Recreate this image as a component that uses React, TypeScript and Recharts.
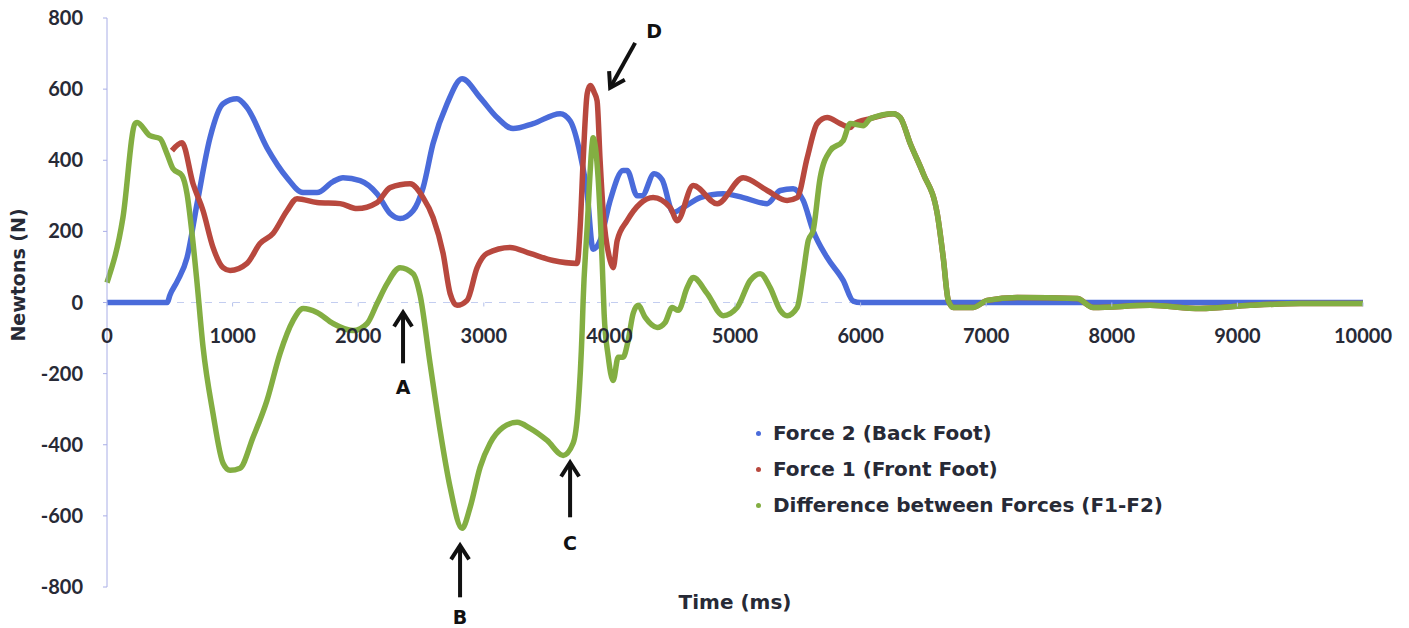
import { LineChart, Line, XAxis, YAxis, ReferenceLine } from "recharts";

// [time ms, force N]
const force2Back: [number, number][] = [
  [0, 0], [480, 0], [500, 20], [560, 60], [637, 126], [717, 278], [820, 463], [924, 559], [1035, 573],
  [1115, 548], [1274, 435], [1433, 351], [1561, 309], [1672, 309], [1800, 340], [1879, 351], [2015, 343],
  [2150, 306], [2254, 250], [2333, 236], [2437, 258], [2517, 323], [2596, 447], [2708, 559], [2827, 629],
  [2971, 576], [3106, 520], [3233, 489], [3393, 503], [3608, 531], [3687, 511], [3767, 418], [3823, 306],
  [3870, 150], [3926, 174], [4006, 287], [4109, 371], [4141, 371], [4221, 300], [4260, 300], [4356, 362],
  [4420, 345], [4508, 253], [4600, 270], [4723, 295], [4906, 306], [5065, 295], [5256, 278], [5360, 315],
  [5463, 320], [5543, 287], [5622, 202], [5734, 126], [5861, 62], [5941, 4], [6000, 0], [10000, 0],
];

const force1Front: [number, number][] = [
  [517, 427], [597, 449], [685, 334], [765, 258], [844, 155], [924, 98], [980, 90], [1115, 110], [1218, 166],
  [1322, 194], [1433, 258], [1513, 292], [1672, 281], [1856, 278], [1991, 264], [2150, 281], [2254, 323],
  [2413, 334], [2517, 295], [2596, 239], [2676, 138], [2732, 25], [2787, -8], [2867, 6], [2947, 98],
  [3026, 138], [3209, 155], [3369, 138], [3552, 118], [3743, 110], [3767, 211], [3791, 399], [3823, 587],
  [3847, 610], [3880, 590], [3902, 567], [3926, 399], [3950, 258], [4006, 118], [4030, 98], [4062, 174],
  [4141, 230], [4245, 278], [4348, 295], [4484, 267], [4540, 230], [4667, 329], [4858, 278], [5065, 351],
  [5256, 315], [5415, 287], [5495, 295], [5575, 407], [5654, 503], [5734, 520], [5838, 503], [5917, 492],
  [5941, 500], [6077, 517], [6260, 531], [6316, 520], [6395, 447], [6499, 362], [6610, 250], [6658, 126],
  [6698, 6], [6738, -14], [6897, -14], [7008, 6], [7247, 14], [7725, 11], [7852, -14], [8306, -8],
  [8705, -17], [9103, -8], [9501, -3], [10000, -3],
];

const forceDiff: [number, number][] = [
  [0, 56], [127, 239], [223, 503], [239, 506], [342, 469], [422, 461], [478, 418], [526, 376], [597, 357],
  [637, 306], [677, 194], [717, 55], [765, -126], [844, -312], [924, -452], [980, -472], [1059, -466],
  [1163, -379], [1274, -275], [1378, -143], [1481, -51], [1561, -17], [1672, -28], [1800, -59], [1959, -79],
  [2071, -59], [2150, -3], [2230, 53], [2333, 98], [2437, 81], [2493, 20], [2572, -171], [2652, -360],
  [2732, -520], [2827, -635], [2891, -576], [2971, -463], [3050, -396], [3154, -351], [3265, -337],
  [3369, -354], [3504, -388], [3632, -430], [3711, -396], [3751, -295], [3783, -79], [3791, 6], [3823, 211],
  [3863, 447], [3870, 463], [3910, 351], [3942, 118], [3958, -31], [3990, -150], [4030, -219], [4070, -154],
  [4109, -154], [4149, -107], [4189, -31], [4229, -8], [4285, -42], [4380, -70], [4444, -56], [4500, -14],
  [4548, -22], [4619, 42], [4667, 70], [4779, 25], [4906, -37], [5017, -14], [5121, 62], [5200, 81],
  [5280, 42], [5360, -22], [5415, -37], [5495, -14], [5543, 81], [5583, 174], [5622, 202], [5678, 351],
  [5758, 427], [5861, 455], [5917, 503], [6021, 497], [6077, 517], [6260, 531], [6316, 520], [6395, 447],
  [6499, 362], [6610, 250], [6658, 126], [6698, 6], [6738, -14], [6897, -14], [7008, 6], [7247, 14],
  [7725, 11], [7852, -14], [8306, -8], [8705, -17], [9103, -8], [9501, -3], [10000, -3],
];

const timeTicks = [0, 1000, 2000, 3000, 4000, 5000, 6000, 7000, 8000, 9000, 10000];
const forceTicks = [-800, -600, -400, -200, 0, 200, 400, 600, 800];

// arrow annotations: label, tail [t, N], tip [t, N]
const arrowLabels = ["A", "B", "C", "D"];
const arrowTails: [number, number][] = [[2357, -171], [2811, -829], [3687, -604], [4205, 730]];
const arrowTips: [number, number][] = [[2357, -28], [2811, -683], [3687, -450], [4006, 604]];
const labelOffsets: [number, number][] = [[0, 24], [0, 20], [0, 26], [19, -12]];

const SERIES = [
  { name: "Force 2 (Back Foot)", data: force2Back, color: "#4A6BDA" },
  { name: "Force 1 (Front Foot)", data: force1Front, color: "#B8483E" },
  { name: "Difference between Forces (F1-F2)", data: forceDiff, color: "#83AE42" },
];

const W = 1409;
const H = 628;
const MARGIN = { top: 18, right: 46, left: 27, bottom: 0 };
const X_AXIS_H = 41;
const ZERO_Y = MARGIN.top + (H - X_AXIS_H - MARGIN.top) / 2;
const NUM_FONT = "Lato, 'Open Sans', sans-serif";
const WORD_FONT = "'DejaVu Sans', Verdana, sans-serif";
const TEXT = "#272a36";

const toRows = (pts: [number, number][]) => pts.map(([t, v]) => ({ t, v }));

function TimeTick(props: any) {
  const { x, payload } = props;
  return (
    <g>
      <line x1={x} x2={x} y1={ZERO_Y} y2={ZERO_Y + 4} stroke="#b4c0ea" />
      <text x={x} y={ZERO_Y + 40} textAnchor="middle" fontFamily={NUM_FONT} fontWeight={700} fontSize={20} fill={TEXT}>
        {payload.value}
      </text>
    </g>
  );
}

const arrowShape = (label: string, off: [number, number]) => (p: any) => {
  const { x1, y1, x2, y2 } = p;
  const len = Math.hypot(x2 - x1, y2 - y1) || 1;
  const ux = (x2 - x1) / len;
  const uy = (y2 - y1) / len;
  const nx = -uy;
  const ny = ux;
  const hb = 14;
  const hw = 9;
  return (
    <g>
      <line x1={x1} y1={y1} x2={x2 - ux * 2} y2={y2 - uy * 2} stroke="#111" strokeWidth={4} />
      <polyline
        points={`${x2 - ux * hb + nx * hw},${y2 - uy * hb + ny * hw} ${x2},${y2} ${x2 - ux * hb - nx * hw},${y2 - uy * hb - ny * hw}`}
        fill="none" stroke="#111" strokeWidth={4} strokeLinejoin="miter"
      />
      <text x={x1 + off[0]} y={y1 + off[1]} textAnchor="middle" dominantBaseline="central"
        fontFamily={WORD_FONT} fontWeight={700} fontSize={19} fill="#111">{label}</text>
    </g>
  );
};

function LegendBox() {
  return (
    <div style={{ position: "absolute", left: 756, top: 415, fontFamily: WORD_FONT, fontWeight: 700, fontSize: 20, color: TEXT }}>
      {SERIES.map((s) => (
        <div key={s.name} style={{ display: "flex", alignItems: "center", height: 36, whiteSpace: "nowrap" }}>
          <span style={{ width: 5, height: 5, borderRadius: 3, background: s.color, marginRight: 12 }} />
          {s.name}
        </div>
      ))}
    </div>
  );
}

export default function App() {
  return (
    <div style={{ position: "absolute", left: 0, top: 0, width: W, height: H, background: "#fff" }}>
      <LineChart width={W} height={H} margin={MARGIN}>
        <XAxis
          type="number" dataKey="t" domain={[0, 10000]} ticks={timeTicks} height={X_AXIS_H}
          axisLine={false} tickLine={false} tick={<TimeTick />} interval={0}
          label={{ value: "Time (ms)", position: "insideBottom", offset: 19, fontFamily: WORD_FONT, fontWeight: 700, fontSize: 20, fill: TEXT }}
        />
        <YAxis
          type="number" domain={[-800, 800]} ticks={forceTicks} width={80} interval={0}
          axisLine={{ stroke: "#a9aee6" }} tickLine={{ stroke: "#a9aee6" }} tickSize={4} tickMargin={20}
          tick={{ fontFamily: NUM_FONT, fontWeight: 700, fontSize: 20, fill: TEXT }}
          label={() => (
            <text x={18} y={275} transform="rotate(-90 18 275)" textAnchor="middle" dominantBaseline="central"
              fontFamily={WORD_FONT} fontWeight={700} fontSize={19} fill={TEXT}>Newtons (N)</text>
          )}
        />
        <ReferenceLine y={0} stroke="#c3cdf0" strokeDasharray="7 7" />
        {SERIES.map((s) => (
          <Line key={s.name} data={toRows(s.data)} dataKey="v" name={s.name} type="monotone"
            stroke={s.color} strokeWidth={5.5} dot={false} isAnimationActive={false} />
        ))}
        {arrowLabels.map((lab, i) => (
          <ReferenceLine key={lab} ifOverflow="visible"
            segment={[{ x: arrowTails[i][0], y: arrowTails[i][1] }, { x: arrowTips[i][0], y: arrowTips[i][1] }]}
            shape={arrowShape(lab, labelOffsets[i])} />
        ))}
      </LineChart>
      <LegendBox />
    </div>
  );
}
